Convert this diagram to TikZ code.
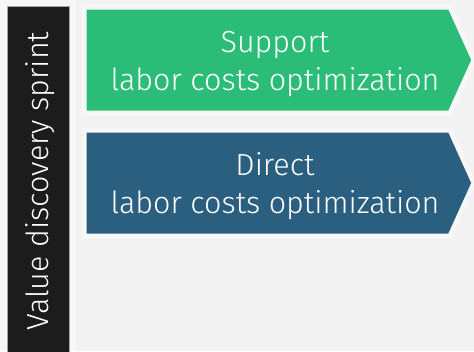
\documentclass[tikz,border=0pt]{standalone}
\usepackage{fontspec}
\setmainfont{Fira Sans Light}
\definecolor{pagebg}{HTML}{F7F7F7}
\definecolor{panelbg}{HTML}{F2F2F2}
\definecolor{sprintbar}{HTML}{1C1C1C}
\definecolor{supportgreen}{HTML}{2BBD78}
\definecolor{directblue}{HTML}{2A5F80}
\tikzset{
  chevtext/.style={text=white, font=\fontsize{30.5}{38}\selectfont, align=center, inner sep=0pt},
  chevedge/.style={draw=pagebg, line width=5pt, line join=miter}
}
\begin{document}
\begin{tikzpicture}[x=1pt, y=-1pt]
  \useasboundingbox (0,0) rectangle (474,351);
  \fill[pagebg] (0,0) rectangle (474,351);
  \fill[panelbg] (76,0) rectangle (474,351);
  \filldraw[fill=sprintbar, draw=gray!70] (7,6) rectangle (69,356);
  \node[rotate=90, text=white, font=\fontsize{30.5}{30}\selectfont, inner sep=0pt] (sprint) at (40,181) {Value discovery sprint};
  \filldraw[fill=supportgreen, chevedge] (84,7) -- (450,7) -- (474,60) -- (450,113) -- (84,113) -- cycle;
  \node[chevtext] (support) at (275,64) {Support\\labor costs optimization};
  \filldraw[fill=directblue, chevedge] (84,130) -- (450,130) -- (474,183) -- (450,236) -- (84,236) -- cycle;
  \node[chevtext] (direct) at (275,186) {Direct\\labor costs optimization};
\end{tikzpicture}
\end{document}
